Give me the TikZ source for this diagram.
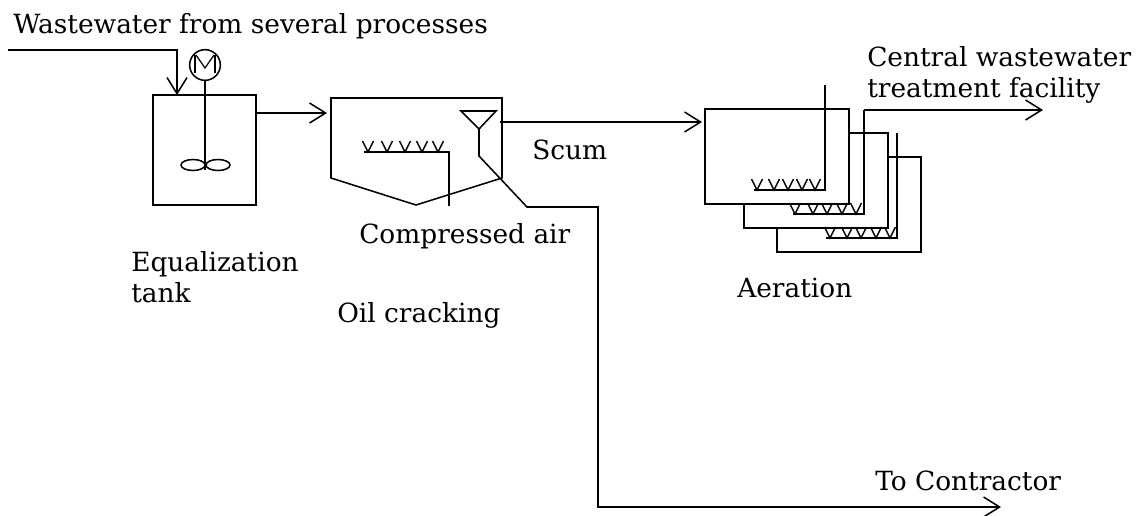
\documentclass[tikz,border=0pt]{standalone}
\usepackage{fontspec}
\setmainfont{DejaVu Serif}
\usetikzlibrary{arrows.meta}
\tikzset{
  x=0.75pt,y=-0.75pt,
  pipe/.style={line width=1.15pt,line join=miter},
  flow/.style={pipe,-{Straight Barb[length=12pt,width=15pt,line width=1.15pt]}},
  label/.style={anchor=base west,inner sep=0pt,font=\fontsize{19.8pt}{24pt}\selectfont,text=black},
  vent/.pic={\draw[pipe] (-5.5,-11)--(0,0)--(5.5,-11);}
}
\begin{document}
\begin{tikzpicture}
\useasboundingbox (0,0) rectangle (1136,515);
% labels
\node[label] (lw) at (13,33) {Wastewater from several processes};
\node[label] (lc) at (867,66) {Central wastewater};
\node[label] (lt) at (867,97) {treatment facility};
\node[label] (ls) at (532,159) {Scum};
\node[label] (la) at (359,243) {Compressed air};
\node[label] (le) at (131,271) {Equalization};
\node[label] (le2) at (131,302) {tank};
\node[label] (lo) at (337,322) {Oil cracking};
\node[label] (lae) at (737,297) {Aeration};
\node[label] (lct) at (875,490) {To Contractor};
% coordinates
\coordinate (in0) at (8,50); \coordinate (in1) at (177,50); \coordinate (in2) at (177,95);
\coordinate (o0) at (255,113); \coordinate (o1) at (327,113);
\coordinate (s0) at (500,122); \coordinate (s1) at (702,122);
\coordinate (t0) at (1043,110);
% equalization tank
\draw[pipe] (153,95) rectangle (256,205);
\node[circle,draw,line width=1.15pt,minimum size=23pt,inner sep=0pt] (motor) at (205,65) {};
\draw[pipe,line width=0.9pt] (195,55)--(195,73);
\draw[pipe,line width=0.9pt] (215,55)--(215,73);
\draw[pipe,line width=0.9pt] (196,55)--(205,68)--(214,55);
\draw[pipe] (motor.south)--(205,170);
\draw[pipe] (193,165) ellipse (12 and 5.5);
\draw[pipe] (218,165) ellipse (12 and 5.5);
\draw[flow] (in0)--(in1)--(in2);
\draw[flow] (o0)--(o1);
% oil cracking tank
\draw[pipe] (331,98)--(502,98)--(502,178)--(416,205)--(331,178)--cycle;
\draw[pipe] (461,111)--(496,111)--(479,129)--cycle;
\draw[flow] (479,129)--(479,156)--(527,207)--(598,207)--(598,507)--(1001,507);
\draw[pipe] (364,152)--(449,152)--(449,206);
\foreach \x in {368,387,405,422,438} \pic at (\x,152) {vent};
\draw[flow] (s0)--(s1);
% aeration tanks
\draw[pipe] (705,109) rectangle (849,204);
\draw[pipe] (849,133)--(888,133)--(888,228)--(744,228)--(744,204);
\draw[pipe] (888,157)--(921,157)--(921,252)--(777,252)--(777,228);
\draw[pipe] (825,85)--(825,190)--(754,190);
\foreach \x in {757,774,788,802,815} \pic at (\x,190) {vent};
\draw[pipe] (793,214)--(864,214)--(864,110);
\draw[flow] (864,110)--(t0);
\foreach \x in {795,813,827,842,856} \pic at (\x,214) {vent};
\draw[pipe] (897,133)--(897,238)--(826,238);
\foreach \x in {830,847,861,876,890} \pic at (\x,238) {vent};
\end{tikzpicture}
\end{document}
